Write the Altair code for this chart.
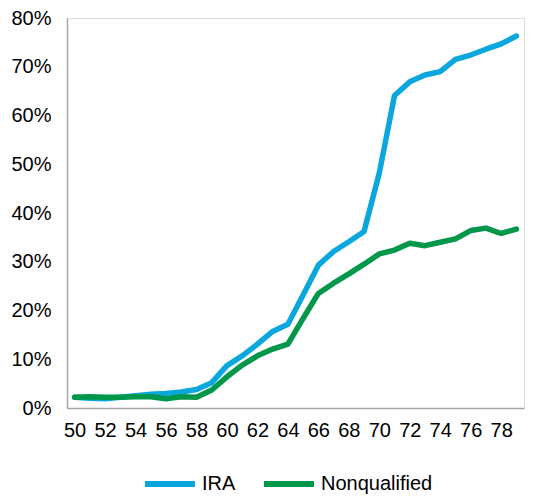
import altair as alt
import pandas as pd

ages = list(range(50, 80))
ira = [2.2, 2.0, 1.9, 2.2, 2.5, 2.8, 3.0, 3.3, 3.8, 5.2, 8.7, 10.7, 13.1, 15.7, 17.2,
       23.2, 29.3, 32.1, 34.1, 36.2, 48.2, 64.1, 66.9, 68.3, 69.0, 71.5, 72.4, 73.6, 74.7, 76.3]
nonq = [2.2, 2.3, 2.2, 2.2, 2.3, 2.3, 1.9, 2.3, 2.2, 3.7, 6.4, 8.8, 10.7, 12.1, 13.1,
        18.4, 23.5, 25.6, 27.5, 29.5, 31.6, 32.4, 33.8, 33.3, 34.0, 34.7, 36.4, 36.9, 35.8, 36.7]
series = ["IRA", "Nonqualified"]
colors = ["#0AA6DE", "#00974A"]

rows = []
for a, v in zip(ages, ira):
    rows.append({"age": a, "value": v / 100, "series": "IRA"})
for a, v in zip(ages, nonq):
    rows.append({"age": a, "value": v / 100, "series": "Nonqualified"})
df = pd.DataFrame(rows)

FONT = "Liberation Sans"

chart = alt.Chart(df).mark_line(strokeWidth=5.5, strokeCap="round", strokeJoin="round").encode(
    x=alt.X("age:Q", scale=alt.Scale(domain=[49.5, 79.5], nice=False, zero=False),
            axis=alt.Axis(values=list(range(50, 80, 2)), title=None, ticks=False, grid=False,
                          labelFontSize=20, labelFont=FONT, labelColor="#000000",
                          labelPadding=12, domainColor="#A6A6A6", domainWidth=1.5,
                          labelFlush=False, labelOverlap=False)),
    y=alt.Y("value:Q", scale=alt.Scale(domain=[0, 0.8], nice=False),
            axis=alt.Axis(values=[i / 10 for i in range(0, 9)], format=".0%", title=None,
                          ticks=False, grid=False, labelFontSize=20, labelFont=FONT,
                          labelColor="#000000", labelPadding=16, domainColor="#A6A6A6",
                          domainWidth=1.5)),
    color=alt.Color("series:N", scale=alt.Scale(domain=series, range=colors),
                    legend=alt.Legend(title=None, orient="none", legendX=75, legendY=438,
                                      direction="horizontal", symbolType="stroke",
                                      symbolSize=2500, symbolStrokeWidth=6,
                                      labelFontSize=20, labelFont=FONT, labelColor="#000000",
                                      labelOffset=4, columnPadding=16)),
).properties(
    width=457, height=390,
    autosize=alt.AutoSizeParams(type="none"),
    padding={"left": 59, "top": 10, "right": 16, "bottom": 88},
).configure_view(stroke=None).configure(background="white")

chart.save("out.html", embed_options={"renderer": "svg", "actions": False})
